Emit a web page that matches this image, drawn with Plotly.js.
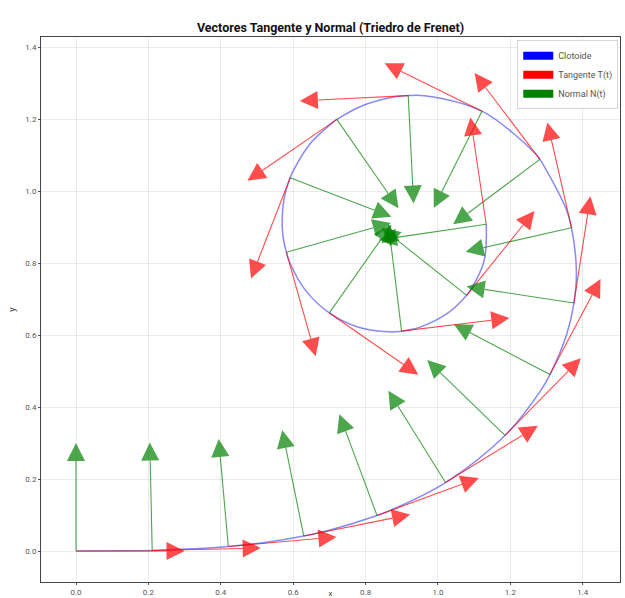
<!DOCTYPE html>
<html>
<head>
<meta charset="utf-8">
<script src="https://cdn.plot.ly/plotly-3.0.1.min.js"></script>
<style>html,body{margin:0;padding:0;background:#fff}#chart{width:625px;height:598px}</style>
</head>
<body>
<div id="chart"></div>
<script>
// Clothoid curve points
const curveX = [0, 0.17723, 0.21049, 0.35435, 0.42072, 0.53067, 0.62907, 0.70452, 0.83157, 0.87265,
  1.02078, 1.18510, 1.28120, 1.30914, 1.35561, 1.37551, 1.38232, 1.36883, 1.35382, 1.28147,
  1.26809, 1.12147, 0.96262, 0.91777, 0.87432, 0.78920, 0.72054, 0.71217, 0.64776, 0.60075,
  0.59159, 0.57397, 0.57063, 0.58100, 0.59134, 0.63507, 0.69980, 0.77813, 0.86540, 0.89937,
  0.95255, 1.03079, 1.07914, 1.09159, 1.12780, 1.13322];
const curveY = [0, 0.00092, 0.00156, 0.00743, 0.01243, 0.02503, 0.04187, 0.05913, 0.09864, 0.11473,
  0.19017, 0.32094, 0.44194, 0.49016, 0.60225, 0.68883, 0.77680, 0.89805, 0.95092, 1.08790,
  1.10495, 1.22178, 1.26470, 1.26501, 1.26043, 1.23629, 1.19894, 1.19291, 1.13240, 1.05756,
  1.03682, 0.97343, 0.88514, 0.83009, 0.79927, 0.72254, 0.66131, 0.62222, 0.60870, 0.61075,
  0.62261, 0.66338, 0.71024, 0.72728, 0.80771, 0.90760];

// Points where the Frenet vectors are drawn, and tangent direction (degrees)
const pointX = [0, 0.21049, 0.42072, 0.62907, 0.83157, 1.02078, 1.18510, 1.30914, 1.37551, 1.36883,
  1.28147, 1.12147, 0.91777, 0.72054, 0.59159, 0.58100, 0.69980, 0.89937, 1.07914, 1.13322];
const pointY = [0, 0.00156, 0.01243, 0.04187, 0.09864, 0.19017, 0.32094, 0.49016, 0.68883, 0.89805,
  1.08790, 1.22178, 1.26501, 1.19894, 1.03682, 0.83009, 0.66131, 0.61075, 0.71024, 0.90760];
const tangentAngle = [0, 1.27, 5.08, 11.43, 20.32, 31.74, 45.71, 62.22, 81.26, 102.85,
  126.97, 153.64, 182.84, 214.58, 248.86, 285.69, 325.05, 6.95, 51.38, 98.37];

const legendNames = ['Clotoide', 'Tangente T(t)', 'Normal N(t)'];
const titleText = 'Vectores Tangente y Normal (Triedro de Frenet)';

const VEC_LEN = 0.3, HEAD_LEN = 0.05, HEAD_W = 0.05;
const RED = 'rgba(255,0,0,0.7)', GREEN = 'rgba(0,128,0,0.7)';

function buildArrows(angleOffset, color) {
  const sx = [], sy = [], heads = [];
  for (let i = 0; i < pointX.length; i++) {
    const a = (tangentAngle[i] + angleOffset) * Math.PI / 180;
    const dx = Math.cos(a), dy = Math.sin(a);
    const tx = pointX[i] + VEC_LEN * dx, ty = pointY[i] + VEC_LEN * dy;
    const hx = tx - HEAD_LEN * dx, hy = ty - HEAD_LEN * dy;
    const nx = -dy, ny = dx;
    sx.push(pointX[i], hx, null); sy.push(pointY[i], hy, null);
    heads.push({
      type: 'scatter', mode: 'lines', hoverinfo: 'skip', showlegend: false,
      x: [tx, hx + nx * HEAD_W / 2, hx - nx * HEAD_W / 2, tx],
      y: [ty, hy + ny * HEAD_W / 2, hy - ny * HEAD_W / 2, ty],
      fill: 'toself', fillcolor: color, line: {width: 0, color: color}
    });
  }
  const shaft = {type: 'scatter', mode: 'lines', x: sx, y: sy, hoverinfo: 'skip', showlegend: false,
    line: {color: color, width: 1.1}};
  return {shaft, heads};
}

const tang = buildArrows(0, RED);
const norm = buildArrows(90, GREEN);

const traces = [
  {type: 'scatter', mode: 'lines', x: curveX, y: curveY, showlegend: false, hoverinfo: 'skip',
   line: {color: 'rgba(40,40,235,0.55)', width: 1.5, shape: 'spline', smoothing: 1}},
  norm.shaft, tang.shaft,
  ...norm.heads, ...tang.heads,
  {type: 'scatter', mode: 'lines', x: [null], y: [null], name: legendNames[0], line: {color: 'blue', width: 8}},
  {type: 'scatter', mode: 'lines', x: [null], y: [null], name: legendNames[1], line: {color: 'red', width: 8}},
  {type: 'scatter', mode: 'lines', x: [null], y: [null], name: legendNames[2], line: {color: 'green', width: 8}}
];

const axisCommon = {
  dtick: 0.2, tick0: 0, tickformat: '.1f', ticks: 'outside', ticklen: 2, tickcolor: '#555',
  tickfont: {size: 8, color: '#555', family: 'Roboto, sans-serif'},
  showgrid: true, gridcolor: 'rgba(0,0,0,0.08)', gridwidth: 1, zeroline: false,
  showline: true, mirror: true, linecolor: '#444', linewidth: 1, automargin: false
};

const layout = {
  width: 625, height: 598,
  margin: {l: 41, r: 5, t: 37, b: 16},
  paper_bgcolor: '#fff', plot_bgcolor: '#fff',
  font: {family: 'Roboto, sans-serif', color: '#222'},
  title: {text: '<b>' + titleText + '</b>', xref: 'paper', x: 0.5, xanchor: 'center',
          yref: 'container', y: 0.953, yanchor: 'middle', font: {size: 12.5, color: '#111', family: 'Roboto, sans-serif'}},
  xaxis: Object.assign({}, axisCommon, {range: [-0.0967, 1.5028], title: {text: 'x', font: {size: 8, color: '#444'}, standoff: 0}}),
  yaxis: Object.assign({}, axisCommon, {range: [-0.0861, 1.4278], title: {text: 'y', font: {size: 9, color: '#444'}, standoff: 8}}),
  legend: {x: 0.997, y: 0.994, xanchor: 'right', yanchor: 'top', bgcolor: 'rgba(255,255,255,0.85)',
           bordercolor: '#d6d6d6', borderwidth: 1, font: {size: 9, color: '#555'}, tracegroupgap: 0},
  showlegend: true
};

Plotly.newPlot('chart', traces, layout, {displayModeBar: false, staticPlot: true});
</script>
</body>
</html>
